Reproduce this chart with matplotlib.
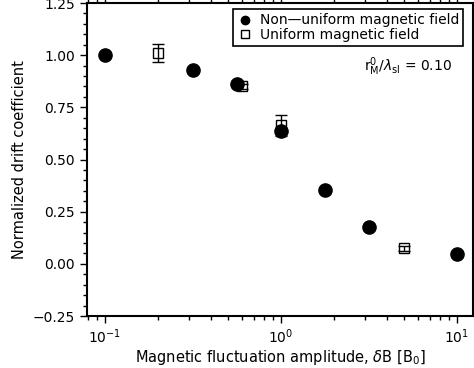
import numpy as np
import matplotlib
matplotlib.use('Agg')
import matplotlib.pyplot as plt
from matplotlib.ticker import MultipleLocator, LogLocator, NullFormatter

# non-uniform field (filled circles)
x_nonuni = [0.1, 0.316, 0.562, 1.0, 1.778, 3.162, 10.0]
y_nonuni = [1.00, 0.93, 0.86, 0.635, 0.352, 0.178, 0.047]

# uniform field (open squares with error bars)
x_uni = [0.2, 0.6, 1.0, 5.0]
y_uni = [1.01, 0.851, 0.663, 0.075]
err_uni = [0.045, 0.012, 0.05, 0.012]

yticks = [-0.25, 0.0, 0.25, 0.5, 0.75, 1.0, 1.25]

plt.rcParams['font.family'] = 'DejaVu Sans'
plt.rcParams['mathtext.fontset'] = 'dejavusans'

fig = plt.figure(figsize=(4.74, 3.68), dpi=100)
ax = fig.add_axes([87/474, 1 - 316/368, (473 - 87)/474, (316 - 3)/368])

uni = ax.errorbar(x_uni, y_uni, yerr=err_uni, fmt='s', mfc='none', mec='black',
                  ecolor='black', ms=7.5, mew=1.0, elinewidth=1.0, capsize=4,
                  capthick=1.0, zorder=2)
nonuni, = ax.plot(x_nonuni, y_nonuni, 'o', color='black', ms=9.5, zorder=3)

ax.set_xscale('log')
ax.set_xlim(10**-1.102, 10**1.091)
ax.set_ylim(-0.25, 1.25)
ax.set_yticks(yticks)
ax.set_yticklabels([('%.2f' % v).replace('-', '\u2212') for v in yticks])
ax.yaxis.set_minor_locator(MultipleLocator(0.05))
ax.xaxis.set_major_locator(LogLocator(base=10))
ax.xaxis.set_minor_locator(LogLocator(base=10, subs=np.arange(2, 10)))
ax.xaxis.set_minor_formatter(NullFormatter())

ax.tick_params(which='both', direction='out', top=True, right=False,
               labelsize=10)
ax.tick_params(which='major', length=5, width=1)
ax.tick_params(which='minor', length=3, width=1)
for s in ax.spines.values():
    s.set_linewidth(1.5)

ax.set_xlabel('Magnetic fluctuation amplitude, $\\delta$B [B$_0$]',
              fontsize=10.5, labelpad=1)
ax.set_ylabel('Normalized drift coefficient', fontsize=10.5, labelpad=4)

# legend with small markers
h1, = ax.plot([], [], 'o', color='black', ms=6)
h2, = ax.plot([], [], 's', mfc='none', mec='black', ms=6, mew=1.0)
leg = ax.legend([h1, h2], ['Non\u2014uniform magnetic field', 'Uniform magnetic field'],
                loc='upper right', bbox_to_anchor=(0.975, 0.98), fontsize=10,
                frameon=True, fancybox=False, edgecolor='black',
                handletextpad=0.6, borderpad=0.3, labelspacing=0.05,
                handlelength=1.0, borderaxespad=0.0, framealpha=1)
leg.get_frame().set_linewidth(1.2)

ax.text(0.946, 0.795, r'r$_{\rm M}^{0}$/$\lambda_{\rm sl}$ = 0.10',
        transform=ax.transAxes, ha='right', va='center', fontsize=10)

fig.savefig('out.png', dpi=100)
